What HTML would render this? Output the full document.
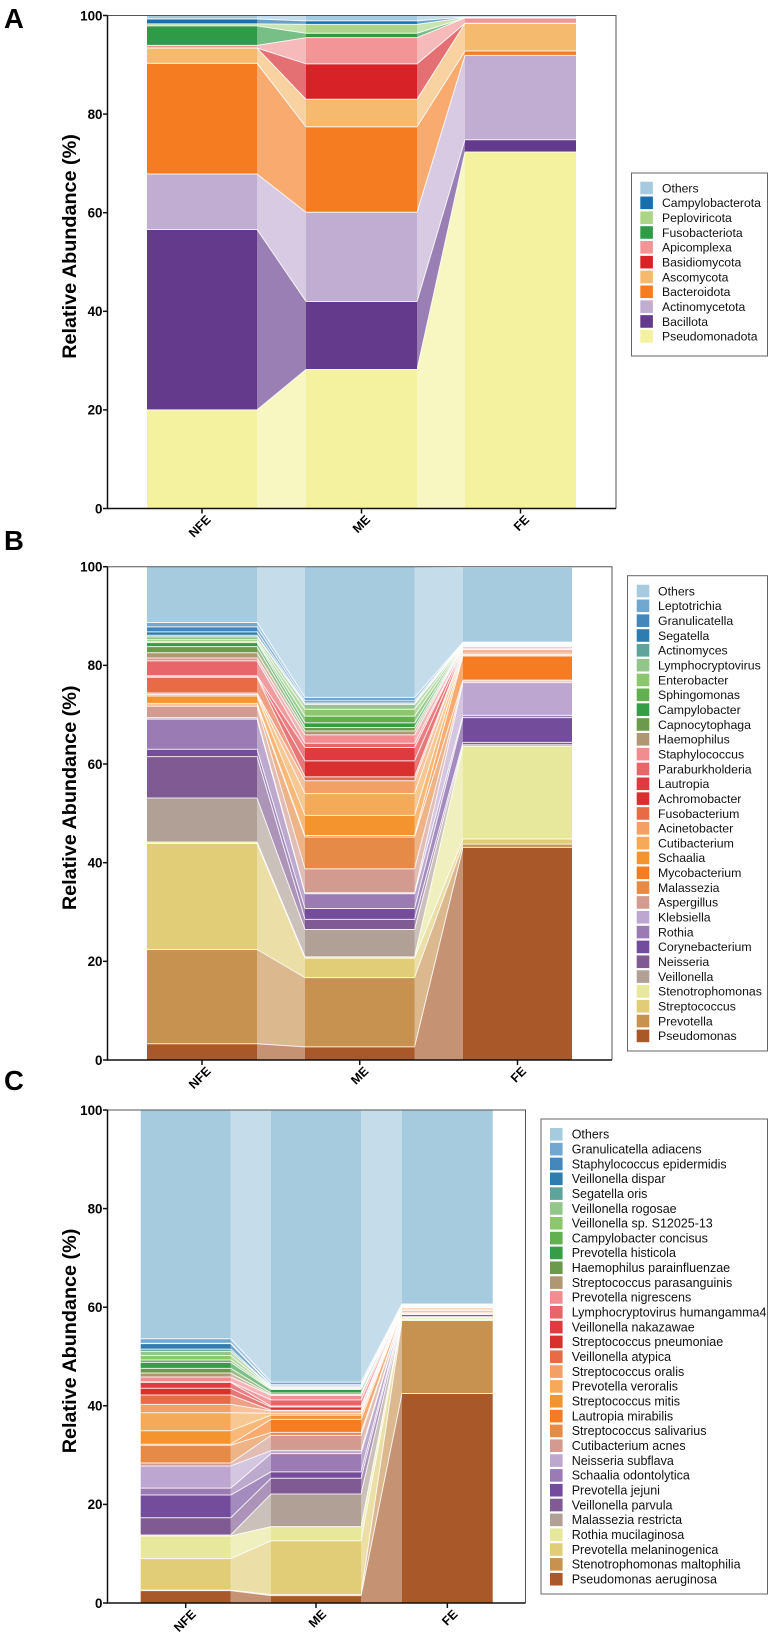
<!DOCTYPE html>
<html lang="en">
<head>
<meta charset="utf-8">
<title>Relative abundance stacked bars</title>
<style>
html,body{margin:0;padding:0;background:#fff;width:772px;height:1637px;overflow:hidden}
svg{display:block}
text{font-family:"Liberation Sans",Arial,sans-serif}
</style>
</head>
<body>
<svg id="figure" width="772" height="1637" viewBox="0 0 772 1637" xmlns="http://www.w3.org/2000/svg">
<text x="4" y="28" font-size="27.5" font-weight="700" fill="#000">A</text>
<text x="4" y="550" font-size="27.5" font-weight="700" fill="#000">B</text>
<text x="4" y="1090" font-size="27.5" font-weight="700" fill="#000">C</text>
</svg>
<script>
const groups = ['NFE', 'ME', 'FE'];
const yTicks = [0, 20, 40, 60, 80, 100];
const yTitle = 'Relative Abundance (%)';

// Panel A: phylum level, listed bottom of the stack to top
const seriesA = ['Pseudomonadota','Bacillota','Actinomycetota','Bacteroidota','Ascomycota','Basidiomycota','Apicomplexa','Fusobacteriota','Peploviricota','Campylobacterota','Others'];
const nfeA = [20,36.6,11.25,22.45,3.1,0,0.55,3.95,0.4,1,0.7];
const meA = [28.2,13.8,18.1,17.3,5.6,7.2,5.3,0.9,1.8,0.7,1.1];
const feA = [72.3,2.5,17.1,0.9,5.6,0,1.1,0,0.1,0.1,0.3];
const paletteA = ['#f4f29f','#643a8c','#c1add2','#f67c21','#f6ba6e','#d72328','#f39596','#309b47','#acd58a','#1a6eaa','#a6cbdf'];

// Shared palette for panels B and C, bottom of the stack to top
const paletteLong = ['#a85829','#c79250','#e1cd77','#e7e89b','#b1a095','#7f5a93','#734d9b','#9b7bb4','#bda6d0','#d39a8f','#e58a47','#f67c21','#f4942f','#f4aa58','#f2a066','#e86b46','#da2f2f','#e0393f','#e8656a','#f18c90','#b09773','#6b9a4d','#369c46','#62b050','#8cc76e','#93c68a','#5fa39a','#2f7cae','#4587bb','#72a7cf','#a6cbdf'];

// Panel B: genus level
const seriesB = ['Pseudomonas','Prevotella','Streptococcus','Stenotrophomonas','Veillonella','Neisseria','Corynebacterium','Rothia','Klebsiella','Aspergillus','Malassezia','Mycobacterium','Schaalia','Cutibacterium','Acinetobacter','Fusobacterium','Achromobacter','Lautropia','Paraburkholderia','Staphylococcus','Haemophilus','Capnocytophaga','Campylobacter','Sphingomonas','Enterobacter','Lymphocryptovirus','Actinomyces','Segatella','Granulicatella','Leptotrichia','Others'];
const nfeB = [3.3,19.1,21.5,0.3,8.9,8.4,1.5,6.1,0.3,2.3,0.3,0.3,1.5,0.3,0.3,3.2,0.1,0.2,3,0.6,1.05,1.25,0.8,0.2,0.4,0.6,0.3,0.7,1,0.9,11.3];
const meB = [2.65,14.05,3.95,0.25,5.55,2.05,2.2,3,0.2,4.85,6.45,0.3,4.1,4.4,2.6,0.8,3.25,2.7,0.85,1.7,0.8,0.7,0.95,1.35,1.4,1,0.1,0.2,0.4,0.7,26.5];
const feB = [43.1,0.65,1.05,18.8,0.3,0.5,5,0.45,6.65,0.3,0.2,4.9,0.2,0.2,0.4,0.4,0.1,0.1,0.1,0.3,0.1,0.1,0.1,0.1,0.1,0.1,0.1,0.1,0.1,0.1,15.1];

// Panel C: species level
const seriesC = ['Pseudomonas aeruginosa','Stenotrophomonas maltophilia','Prevotella melaninogenica','Rothia mucilaginosa','Malassezia restricta','Veillonella parvula','Prevotella jejuni','Schaalia odontolytica','Neisseria subflava','Cutibacterium acnes','Streptococcus salivarius','Lautropia mirabilis','Streptococcus mitis','Prevotella veroralis','Streptococcus oralis','Veillonella atypica','Streptococcus pneumoniae','Veillonella nakazawae','Lymphocryptovirus humangamma4','Prevotella nigrescens','Streptococcus parasanguinis','Haemophilus parainfluenzae','Prevotella histicola','Campylobacter concisus','Veillonella sp. S12025-13','Veillonella rogosae','Segatella oris','Veillonella dispar','Staphylococcus epidermidis','Granulicatella adiacens','Others'];
const nfeC = [2.5,0.1,6.4,4.6,0.2,3.5,4.6,1.4,4.5,0.6,3.6,0.2,2.75,3.65,1.7,1.9,1.35,1.2,0.1,1,0.8,0.95,1.2,0.5,0.9,0.85,0.45,1.1,0.1,0.9,46.4];
const meC = [1.5,0.2,10.9,2.9,6.6,3.2,1.3,3.7,0.6,3.1,0.6,2.65,0.85,0.4,0.45,0.15,0.65,0.2,1.25,0.9,0.2,0.3,0.7,0.2,0.1,0.2,0.1,0.2,0.2,0.5,55.2];
const feC = [42.5,14.8,0.2,0.3,0.1,0.2,0.4,0.1,0.1,0.1,0.1,0.3,0.1,0.2,0.3,0.1,0.05,0.05,0.1,0.1,0.05,0.05,0.05,0.05,0.05,0.05,0.03,0.03,0.04,0.05,39.35];

const SVGNS = 'http://www.w3.org/2000/svg';
const figure = document.getElementById('figure');

function make(tag, attrs, parent) {
  const el = document.createElementNS(SVGNS, tag);
  for (const k in attrs) el.setAttribute(k, attrs[k]);
  parent.appendChild(el);
  return el;
}

function drawPanel(id, layout, series, stacks, palette) {
  const g = make('g', {}, figure);
  
  

  const yScale = v => layout.yTop + (100 - v) * (layout.yBottom - layout.yTop) / 100;
  const barLeft = i => layout.barX[i][0];
  const barRight = i => layout.barX[i][1];

  const tops = stacks.map(vals => {
    let sum = 0;
    return vals.map(v => (sum += v));
  });
  const bases = stacks.map(vals => {
    let sum = 0;
    return vals.map(v => { const b = sum; sum += v; return b; });
  });

  // connector bands between adjacent bars
  for (let gi = 0; gi < groups.length - 1; gi++) {
    series.forEach((name, si) => {
      const x0 = barRight(gi), x1 = barLeft(gi + 1);
      const band = make('polygon', {
        points: x0 + ',' + yScale(tops[gi][si]) + ' ' + x1 + ',' + yScale(tops[gi + 1][si]) + ' ' + x1 + ',' + yScale(bases[gi + 1][si]) + ' ' + x0 + ',' + yScale(bases[gi][si]),
        fill: palette[si], 'fill-opacity': 0.65
      }, g);
      
      
    });
    series.forEach((name, si) => {
      const sep = make('line', {
        x1: barRight(gi), y1: yScale(tops[gi][si]), x2: barLeft(gi + 1), y2: yScale(tops[gi + 1][si]),
        stroke: '#fff', 'stroke-width': 1, 'stroke-opacity': 0.85
      }, g);
      
      
    });
  }

  // stacked bar segments
  groups.forEach((groupName, gi) => {
    series.forEach((name, si) => {
      const seg = make('rect', {
        x: barLeft(gi), y: yScale(tops[gi][si]),
        width: barRight(gi) - barLeft(gi),
        height: Math.max(0, yScale(bases[gi][si]) - yScale(tops[gi][si])),
        fill: palette[si]
      }, g);
      
      
    });
    series.forEach((name, si) => {
      if (si === series.length - 1) return;
      const sep = make('line', {
        x1: barLeft(gi), y1: yScale(tops[gi][si]), x2: barRight(gi), y2: yScale(tops[gi][si]),
        stroke: '#fff', 'stroke-width': 1, 'stroke-opacity': 0.85
      }, g);
      
      
    });
  });

  // frame on top and right
  const frame = make('path', {
    d: 'M' + layout.axisX + ' ' + layout.yTop + 'H' + layout.frameRight + 'V' + layout.yBottom,
    fill: 'none', stroke: '#555', 'stroke-width': 1
  }, g);
  
  

  // y axis
  const yAxis = make('line', {
    x1: layout.axisX, y1: layout.yTop, x2: layout.axisX, y2: layout.yBottom + 0.7,
    stroke: '#111', 'stroke-width': 1.5
  }, g);
  
  

  yTicks.forEach(t => {
    const mark = make('line', {
      x1: layout.axisX - 4.5, y1: yScale(t), x2: layout.axisX, y2: yScale(t),
      stroke: '#111', 'stroke-width': 1.5
    }, g);
    
    
    const lab = make('text', {
      x: layout.axisX - 5, y: yScale(t) + 4.8, 'text-anchor': 'end',
      'font-size': 13.4, 'font-weight': 700, fill: '#000'
    }, g);
    
    
    lab.textContent = t;
  });

  const midY = (layout.yTop + layout.yBottom) / 2 - 15.5;
  const title = make('text', {
    x: 76, y: midY, 'text-anchor': 'middle',
    transform: 'rotate(-90 76 ' + midY + ')',
    'font-size': 19.8, 'font-weight': 700, fill: '#000'
  }, g);
  
  
  title.textContent = yTitle;

  // x axis
  const xAxis = make('line', {
    x1: layout.axisX, y1: layout.yBottom, x2: layout.frameRight, y2: layout.yBottom,
    stroke: '#111', 'stroke-width': 1.5
  }, g);
  
  

  groups.forEach((groupName, gi) => {
    const cx = (barLeft(gi) + barRight(gi)) / 2;
    const mark = make('line', {
      x1: cx, y1: layout.yBottom, x2: cx, y2: layout.yBottom + 5,
      stroke: '#111', 'stroke-width': 1.5
    }, g);
    
    
    const ax = cx + layout.labelDx, ay = layout.yBottom + 12;
    const lab = make('text', {
      x: ax, y: ay, 'text-anchor': 'end',
      transform: 'rotate(-45 ' + ax + ' ' + ay + ')',
      'font-size': 12.5, 'font-weight': 700, fill: '#000'
    }, g);
    
    
    lab.textContent = groupName;
  });

  // legend, top row is the top of the stack
  const leg = layout.legend;
  const rows = series.length;
  const box = make('rect', {
    x: leg.x, y: leg.y, width: leg.right - leg.x, height: leg.bottom - leg.y,
    fill: '#fff', stroke: '#666', 'stroke-width': 1
  }, g);
  
  

  for (let r = 0; r < rows; r++) {
    const si = rows - 1 - r;
    const cy = leg.firstRow + r * 14.83;
    const sw = make('rect', {
      x: leg.swatchX, y: cy - 6.3, width: 12.6, height: 12.6, fill: palette[si]
    }, g);
    
    
    const txt = make('text', {
      x: leg.textX, y: cy + 4.3, 'font-size': leg.fontSize, fill: '#111'
    }, g);
    
    
    txt.textContent = series[si];
  }
}

drawPanel('a', {
  axisX: 107.5, frameRight: 616, yTop: 15.5, yBottom: 508.5, labelDx: 9.5,
  barX: [[147, 257], [306, 417], [465, 576]],
  legend: { x: 631.5, y: 173, right: 767.5, bottom: 356, swatchX: 640.3, textX: 662, firstRow: 188, fontSize: 12.2 }
}, seriesA, [nfeA, meA, feA], paletteA);

drawPanel('b', {
  axisX: 107.5, frameRight: 612, yTop: 566.7, yBottom: 1060, labelDx: 9.5,
  barX: [[147, 257], [305, 414.5], [463, 572]],
  legend: { x: 627.5, y: 575.7, right: 767.5, bottom: 1051, swatchX: 636.7, textX: 658, firstRow: 591, fontSize: 12.3 }
}, seriesB, [nfeB, meB, feB], paletteLong);

drawPanel('c', {
  axisX: 107.5, frameRight: 525.5, yTop: 1110, yBottom: 1603, labelDx: 11,
  barX: [[140.7, 230.7], [271, 361], [402, 492.7]],
  legend: { x: 541, y: 1119, right: 767.5, bottom: 1594, swatchX: 550, textX: 571.7, firstRow: 1134.3, fontSize: 12.5 }
}, seriesC, [nfeC, meC, feC], paletteLong);
</script>
</body>
</html>
